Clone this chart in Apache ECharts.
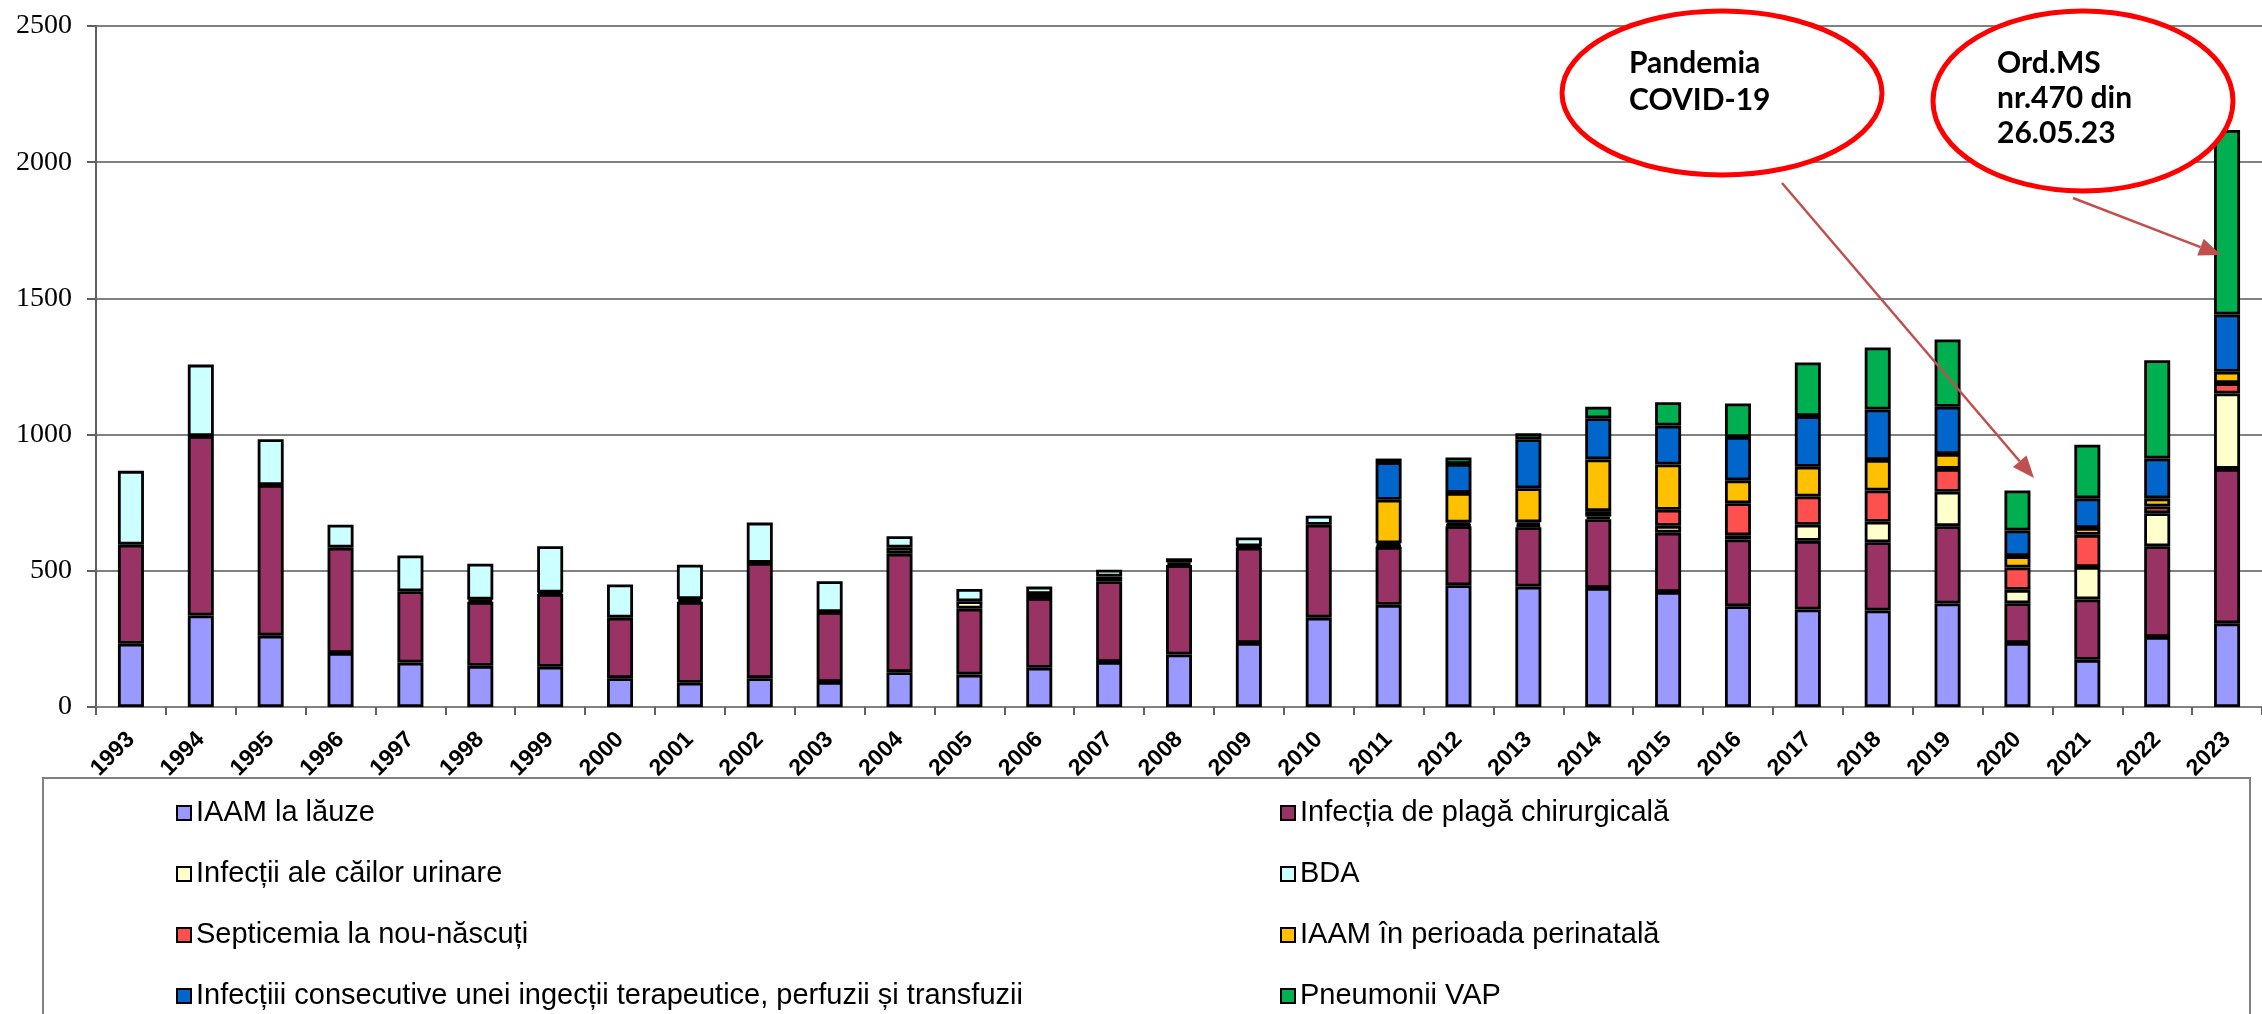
<!DOCTYPE html>
<html lang="ro">
<head>
<meta charset="utf-8">
<script src="https://cdn.jsdelivr.net/npm/echarts@6/dist/echarts.min.js"></script>
<title>IAAM 1993-2023</title>
<style>
  html, body { margin: 0; padding: 0; background: #fff; }
  #chart { width: 2262px; height: 1014px; }
</style>
</head>
<body>
<div id="chart"></div>
<script>
var years = ['1993','1994','1995','1996','1997','1998','1999','2000','2001','2002','2003','2004','2005','2006','2007','2008','2009','2010','2011','2012','2013','2014','2015','2016','2017','2018','2019','2020','2021','2022','2023'];
var yTicks = [0, 500, 1000, 1500, 2000, 2500];

var lauze =      [232,336,262,198,163,151,148,106,89,106,92,128,119,144,165,193,235,328,375,447,442,437,422,370,358,354,380,235,173,257,307];
var plaga =      [364,659,553,387,262,235,267,222,297,423,257,435,242,256,297,328,350,341,213,217,218,252,218,245,252,251,284,146,222,333,567];
var urinare =    ['-','-','-','-','-',8,5,'-',10,'-','-',22,27,15,17,10,5,'-',5,5,8,10,25,15,59,75,126,49,119,121,277];
var bda =        [271,262,168,84,131,132,170,122,126,148,113,42,45,27,25,15,32,33,'-','-','-','-','-','-','-','-','-','-','-','-','-'];
var septicemia = ['-','-','-','-','-','-','-','-','-','-','-','-','-','-','-','-','-','-',8,8,10,20,59,118,104,115,84,82,118,25,38];
var perinatal =  ['-','-','-','-','-','-','-','-','-','-','-','-','-','-','-','-','-','-',160,109,125,190,166,84,109,112,55,42,25,30,42];
var injectii =   ['-','-','-','-','-','-','-','-','-','-','-','-','-','-','-','-','-','-',138,106,180,151,143,159,186,185,173,94,109,146,210];
var vap =        ['-','-','-','-','-','-','-','-','-','-','-','-','-','-','-','-','-','-',13,24,22,42,86,123,197,228,247,147,197,361,677];

var names = [
  'IAAM la lăuze',
  'Infecția de plagă chirurgicală',
  'Infecții ale căilor urinare',
  'BDA',
  'Septicemia la nou-născuți',
  'IAAM în perioada perinatală',
  'Infecțiii consecutive unei ingecții terapeutice, perfuzii și transfuzii',
  'Pneumonii VAP'
];
var colors = ['#9999FF','#993366','#FFFFCC','#CCFFFF','#FF5050','#FFC000','#0066CC','#00B050'];
var values = [lauze, plaga, urinare, bda, septicemia, perinatal, injectii, vap];

var series = [];
for (var i = 0; i < names.length; i++) {
  series.push({
    name: names[i],
    type: 'bar',
    stack: 'total',
    barWidth: 26,
    data: values[i],
    itemStyle: { color: colors[i], borderColor: '#000', borderWidth: 2.8 }
  });
}

// legend: two columns, four rows, one legend per entry
var legendText = { fontFamily: 'Liberation Sans', fontSize: 29, color: '#000', lineHeight: 30 };
var legends = [];
for (var j = 0; j < names.length; j++) {
  legends.push({
    data: [names[j]],
    left: (j % 2 === 0) ? 171 : 1275,
    top: 793 + Math.floor(j / 2) * 61,
    itemWidth: 14, itemHeight: 14, icon: 'rect', selectedMode: false,
    textStyle: legendText
  });
}

// arrow helper: line + filled head
function arrow(x1, y1, x2, y2) {
  var dx = x2 - x1, dy = y2 - y1;
  var len = Math.sqrt(dx * dx + dy * dy);
  var ux = dx / len, uy = dy / len;
  var hl = 22, hw = 9;
  var bx = x2 - ux * hl, by = y2 - uy * hl;
  return [
    { type: 'line', shape: { x1: x1, y1: y1, x2: bx, y2: by }, style: { stroke: '#C0504D', lineWidth: 2.5 }, z: 100 },
    { type: 'polygon', shape: { points: [[x2, y2], [bx - uy * hw, by + ux * hw], [bx + uy * hw, by - ux * hw]] }, style: { fill: '#C0504D' }, z: 100 }
  ];
}

var noteFont = 'bold 30px Lato';
var graphics = [
  { type: 'rect', shape: { x: 43, y: 778, width: 2207, height: 300 }, style: { fill: 'none', stroke: '#808080', lineWidth: 2 }, z: 1 },
  { type: 'ellipse', shape: { cx: 1722, cy: 93, rx: 160, ry: 82 }, style: { fill: '#fff', stroke: '#FF0000', lineWidth: 5 }, z: 100 },
  { type: 'ellipse', shape: { cx: 2083, cy: 101, rx: 150, ry: 90 }, style: { fill: '#fff', stroke: '#FF0000', lineWidth: 5 }, z: 100 },
  { type: 'text', x: 1629, y: 63, style: { text: 'Pandemia', font: noteFont, fill: '#000', verticalAlign: 'middle' }, z: 101 },
  { type: 'text', x: 1629, y: 100, style: { text: 'COVID-19', font: noteFont, fill: '#000', verticalAlign: 'middle' }, z: 101 },
  { type: 'text', x: 1997, y: 63, style: { text: 'Ord.MS', font: noteFont, fill: '#000', verticalAlign: 'middle' }, z: 101 },
  { type: 'text', x: 1997, y: 98, style: { text: 'nr.470 din', font: noteFont, fill: '#000', verticalAlign: 'middle' }, z: 101 },
  { type: 'text', x: 1997, y: 133, style: { text: '26.05.23', font: noteFont, fill: '#000', verticalAlign: 'middle' }, z: 101 }
].concat(arrow(1782, 183, 2034, 478), arrow(2073, 198, 2221, 255));

var option = {
  animation: false,
  backgroundColor: '#fff',
  grid: { left: 96, right: -13, top: 26, bottom: 307, containLabel: false },
  xAxis: {
    type: 'category',
    data: years,
    axisLine: { lineStyle: { color: '#808080', width: 2 } },
    axisTick: { show: true, length: 8, lineStyle: { color: '#606060', width: 2 } },
    axisLabel: { rotate: 45, margin: 29, fontFamily: 'Liberation Sans', fontWeight: 'bold', fontSize: 23, color: '#000' }
  },
  yAxis: {
    type: 'value',
    min: yTicks[0],
    max: yTicks[yTicks.length - 1],
    interval: 500,
    axisLine: { show: true, lineStyle: { color: '#606060', width: 2 } },
    axisTick: { show: true, length: 9, lineStyle: { color: '#606060', width: 2 } },
    axisLabel: { margin: 24, fontFamily: 'Liberation Serif', fontSize: 28, color: '#000',
      formatter: function (v) { return String(v); } },
    splitLine: { lineStyle: { color: '#808080', width: 2 } }
  },
  legend: legends,
  graphic: graphics,
  series: series
};

var chart = echarts.init(document.getElementById('chart'));
chart.setOption(option);
</script>
</body>
</html>
